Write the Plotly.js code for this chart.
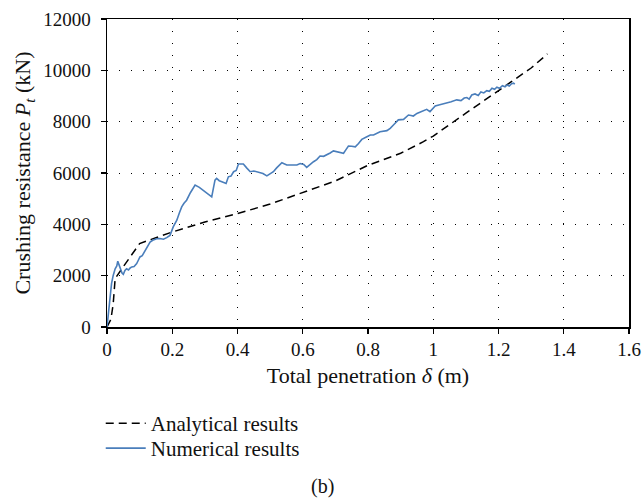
<!DOCTYPE html>
<html>
<head>
<meta charset="utf-8">
<script src="https://cdn.plot.ly/plotly-3.0.1.min.js"></script>
<style>html,body{margin:0;padding:0;background:#fff;}#chart{width:643px;height:501px;}</style>
</head>
<body>
<div id="chart"></div>
<script>
const analyticalX = [0,0.012,0.019,0.025,0.05,0.075,0.1,0.15,0.2,0.3,0.4,0.5,0.6,0.7,0.8,0.9,0.97,1.0,1.1,1.2,1.3,1.35];
const analyticalY = [0,300,900,1890,2350,2800,3250,3480,3700,4090,4420,4790,5230,5690,6300,6770,7220,7440,8330,9210,10090,10640];

const numericalX = [0,0.004,0.009,0.014,0.019,0.025,0.03,0.033,0.037,0.042,0.046,0.05,0.055,0.06,0.066,0.071,0.076,0.083,0.091,0.096,0.101,0.108,0.117,0.124,0.132,0.14,0.152,0.162,0.173,0.183,0.193,0.203,0.214,0.222,0.229,0.236,0.244,0.256,0.27,0.283,0.295,0.31,0.321,0.326,0.331,0.336,0.344,0.352,0.365,0.372,0.38,0.388,0.396,0.403,0.418,0.428,0.439,0.45,0.464,0.478,0.49,0.5,0.51,0.52,0.536,0.551,0.566,0.582,0.592,0.603,0.612,0.622,0.633,0.643,0.653,0.664,0.674,0.684,0.694,0.71,0.725,0.732,0.74,0.75,0.761,0.771,0.781,0.795,0.807,0.817,0.837,0.858,0.868,0.878,0.893,0.909,0.924,0.932,0.939,0.95,0.965,0.98,0.99,1.0,1.006,1.02,1.042,1.055,1.072,1.085,1.095,1.103,1.11,1.118,1.128,1.138,1.146,1.155,1.164,1.172,1.18,1.188,1.195,1.203,1.212,1.22,1.226,1.233,1.24,1.246,1.25];
const numericalY = [0,500,1160,1700,2010,2270,2380,2560,2420,2200,2100,2050,2200,2270,2220,2300,2340,2360,2470,2600,2730,2780,2990,3120,3310,3380,3440,3450,3420,3480,3570,3900,4160,4450,4680,4820,4940,5240,5530,5440,5330,5200,5070,5400,5720,5790,5700,5660,5590,5850,5880,6050,6100,6350,6350,6200,6050,6080,6020,5980,5890,5970,6050,6200,6400,6310,6320,6310,6370,6330,6220,6330,6440,6520,6660,6650,6700,6780,6860,6800,6770,6900,7050,7040,7020,7150,7310,7400,7480,7480,7610,7650,7740,7870,8070,8090,8260,8240,8220,8320,8390,8480,8390,8550,8610,8660,8720,8780,8850,8820,8920,8940,8880,9040,9080,9020,9160,9120,9210,9180,9300,9260,9340,9300,9400,9360,9430,9390,9480,9500,9460];

const xTicks = [0,0.2,0.4,0.6,0.8,1,1.2,1.4,1.6];
const xTickText = ['0','0.2','0.4','0.6','0.8','1','1.2','1.4','1.6'];
const yTicks = [0,2000,4000,6000,8000,10000,12000];
const yTickText = ['0','2000','4000','6000','8000','10000','12000'];

const FONT = "'Liberation Serif', serif";

const traces = [
  {x: analyticalX, y: analyticalY, type: 'scatter', mode: 'lines', name: 'Analytical results',
   legend: 'legend', line: {color: '#000000', width: 1.5, dash: '8px,5px'}},
  {x: numericalX, y: numericalY, type: 'scatter', mode: 'lines', name: 'Numerical results',
   legend: 'legend2', line: {color: '#4a7ebb', width: 1.6}}
];

const axisCommon = {
  showline: true, linecolor: '#000', linewidth: 1.5, mirror: true,
  ticks: 'outside', ticklen: 5, tickcolor: '#000', tickwidth: 1.2,
  showgrid: true, gridcolor: '#000', gridwidth: 1, griddash: '1px,11px',
  zeroline: false, tickfont: {family: FONT, size: 19, color: '#111'},
  automargin: false
};

const legendCommon = {xanchor: 'left', yanchor: 'top', bgcolor: 'rgba(0,0,0,0)', x: -0.012,
  itemwidth: 40, font: {family: FONT, size: 21, color: '#111'}};

const layout = {
  width: 643, height: 501,
  margin: {l: 107, r: 14, t: 19, b: 174},
  paper_bgcolor: '#fff', plot_bgcolor: '#fff',
  font: {family: FONT, size: 19, color: '#111'},
  showlegend: true,
  legend: Object.assign({}, legendCommon, {y: -0.247}),
  legend2: Object.assign({}, legendCommon, {y: -0.328}),
  xaxis: Object.assign({}, axisCommon, {
    range: [0, 1.6], tickvals: xTicks, ticktext: xTickText, ticklabelstandoff: 0,
    title: {text: 'Total penetration <i>δ</i> (m)', font: {family: FONT, size: 22, color: '#111'}, standoff: 8}
  }),
  yaxis: Object.assign({}, axisCommon, {
    range: [0, 12000], tickvals: yTicks, ticktext: yTickText, ticklabelstandoff: 6,
    title: {text: 'Crushing resistance <i>P</i><sub><i>t</i></sub> (kN)', font: {family: FONT, size: 22, color: '#111'}, standoff: 6}
  }),
  annotations: [
    {text: '(b)', xref: 'paper', yref: 'paper', x: 0.412, y: -0.519, xanchor: 'center', yanchor: 'middle',
     showarrow: false, font: {family: FONT, size: 20, color: '#111'}}
  ]
};

Plotly.newPlot('chart', traces, layout, {displayModeBar: false, staticPlot: true});
</script>
</body>
</html>
